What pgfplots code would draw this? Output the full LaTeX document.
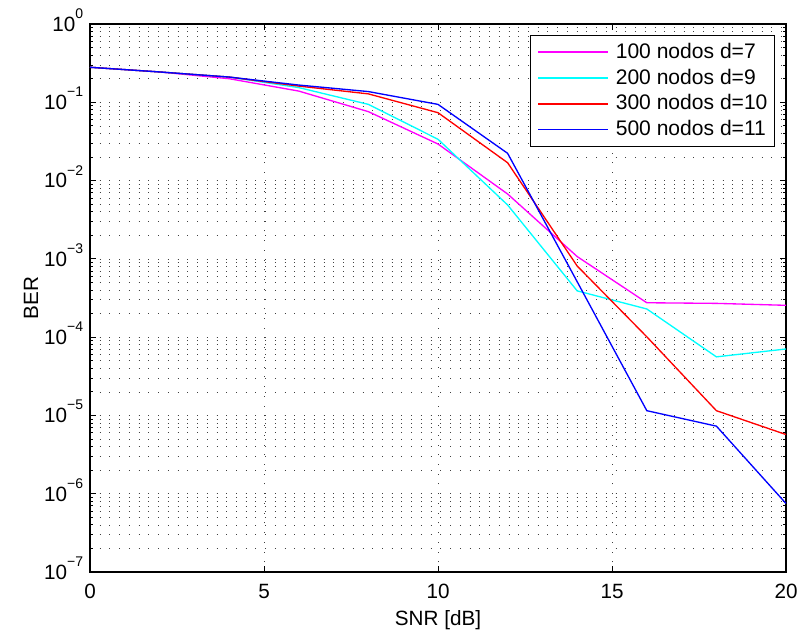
\documentclass[border=0pt]{standalone}
\usepackage{fontspec}
\setmainfont{Liberation Sans}
\usepackage{pgfplots}
\pgfplotsset{compat=1.18}
\definecolor{mmag}{rgb}{1,0,1}
\definecolor{mcyan}{rgb}{0,1,1}
\definecolor{mred}{rgb}{1,0,0}
\definecolor{mblue}{rgb}{0,0,1}
\newcommand{\pe}[1]{10\raisebox{0.62em}{\fontsize{10.5}{10}\selectfont #1}}
\begin{document}
\begin{tikzpicture}
\useasboundingbox (-67.5pt,-43.5pt) rectangle (531pt,429pt);
\begin{axis}[
  at={(0,0)}, anchor=south west,
  scale only axis, width=522pt, height=411pt,
  ymode=log,
  xmin=0, xmax=20, ymin=1e-7, ymax=1,
  xtick={0,5,10,15,20},
  xticklabels={0,5,10,15,20},
  ytick={1e-7,1e-6,1e-5,1e-4,1e-3,1e-2,1e-1,1},
  yticklabels={\pe{−7},\pe{−6},\pe{−5},\pe{−4},\pe{−3},\pe{−2},\pe{−1},\pe{0}},
  font=\fontsize{15.5}{18}\selectfont,
  tick align=inside,
  major tick length=4.5pt, minor tick length=2.5pt,
  every tick/.style={black, line width=0.6pt},
  axis line style={black, line width=0.9pt},
  grid=both,
  major grid style={black!75, line width=0.5pt, dash pattern=on 0.7pt off 6.6pt},
  minor grid style={black!75, line width=0.5pt, dash pattern=on 0.7pt off 6.6pt},
  xticklabel style={anchor=base, inner sep=0pt, yshift=-19.7pt},
  yticklabel style={anchor=base east, inner sep=0pt, xshift=-5pt, yshift=-5.5pt},
  xlabel={SNR [dB]},
  ylabel={BER},
  xlabel style={at={(axis description cs:0.5,0)}, anchor=base, yshift=-40pt},
  ylabel style={at={(axis description cs:-0.0848,0.5)}, anchor=center, rotate=0},
  legend style={at={(axis description cs:1,1)}, anchor=north east,
    xshift=-8.25pt, yshift=-8.25pt,
    draw=black, line width=0.75pt, inner xsep=5.25pt, inner ysep=5pt,
    font=\fontsize{15.8}{18}\selectfont,
    nodes={inner sep=0pt, text height=12pt, text depth=3pt},
    row sep=4.4pt, column sep=5.25pt},
  legend cell align=left,
  legend image code/.code={\path (0pt,0pt) -- (3.75pt,0pt); \draw[#1, line width=1pt] (3.75pt,0pt) -- (52.5pt,0pt);},
]
\addplot[mmag, line width=1pt] coordinates {
(0,0.28) (2,0.244) (4,0.20) (6,0.139) (8,0.0759) (10,0.0293) (12,0.00674) (14,0.00107) (16,2.75e-4) (18,2.7e-4) (20,2.55e-4)};
\addlegendentry{100 nodos d=7}
\addplot[mcyan, line width=1pt] coordinates {
(0,0.28) (2,0.244) (4,0.21) (6,0.154) (8,0.094) (10,0.0337) (12,0.00488) (14,3.9e-4) (16,2.29e-4) (18,5.6e-5) (20,7.06e-5)};
\addlegendentry{200 nodos d=9}
\addplot[mred, line width=1pt] coordinates {
(0,0.28) (2,0.244) (4,0.21) (6,0.161) (8,0.128) (10,0.0736) (12,0.0169) (14,8.1e-4) (16,1.01e-4) (18,1.15e-5) (20,5.7e-6)};
\addlegendentry{300 nodos d=10}
\addplot[mblue, line width=1pt] coordinates {
(0,0.28) (2,0.244) (4,0.21) (6,0.166) (8,0.137) (10,0.094) (12,0.0223) (14,5.1e-4) (16,1.15e-5) (18,7.3e-6) (20,7.5e-7)};
\addlegendentry{500 nodos d=11}
\end{axis}
\end{tikzpicture}
\end{document}
